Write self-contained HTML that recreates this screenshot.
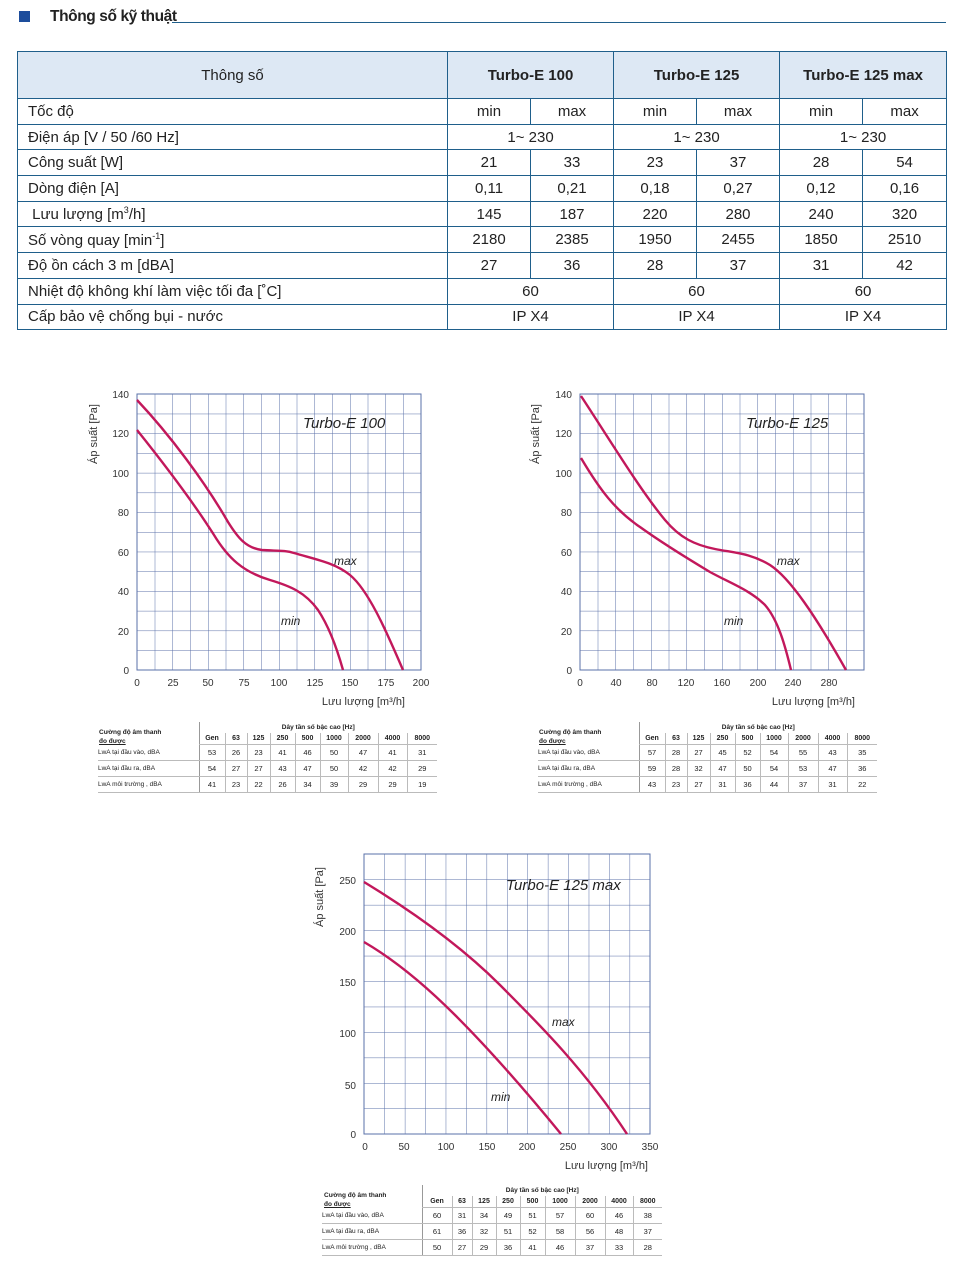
<!DOCTYPE html>
<html><head><meta charset="utf-8">
<style>
body{margin:0;background:#fff;width:954px;height:1271px;position:relative;overflow:hidden;font-family:"Liberation Sans",sans-serif;color:#222}
.abs{position:absolute}
table.main{position:absolute;left:17px;top:51px;width:929px;border-collapse:collapse;font-size:15px;table-layout:fixed}
table.main td{border:1px solid #1f5f8b;height:24.7px;padding:0;text-align:center}
table.main td.l{text-align:left;padding-left:10px}
table.main tr.h td{height:46px;background:#dde8f4;font-size:15px}
table.main tr.h td.b{font-weight:bold;font-size:15px}
.st{position:absolute;border-collapse:collapse;font-size:7.5px;table-layout:fixed}
.st td{text-align:center;padding:0;height:15px;border-bottom:1px solid #bbb;border-left:1px solid #bbb}
.st td.l{text-align:left;border-left:none;font-size:6.5px}
.st td.l2{border-left:1px solid #999}
.st tr.hd td{font-weight:bold;height:11px;font-size:7px}
.st tr.t td{border-bottom:none;height:11px;font-weight:bold;font-size:6.5px}
</style></head><body>
<div class="abs" style="left:19px;top:11px;width:11px;height:11px;background:#1d4d9c"></div>
<div class="abs" style="left:50px;top:8px;font-size:15.5px;font-weight:bold;letter-spacing:-0.4px">Thông số kỹ thuật</div>
<div class="abs" style="left:172px;top:22px;width:774px;height:1px;background:#1f5f8b"></div>

<table class="main">
<colgroup><col style="width:430px"><col style="width:83px"><col style="width:83px"><col style="width:83px"><col style="width:83px"><col style="width:83px"><col style="width:84px"></colgroup>
<tr class="h"><td>Thông số</td><td colspan="2" class="b">Turbo-E 100</td><td colspan="2" class="b">Turbo-E 125</td><td colspan="2" class="b">Turbo-E 125 max</td></tr>
<tr><td class="l">Tốc độ</td><td>min</td><td>max</td><td>min</td><td>max</td><td>min</td><td>max</td></tr>
<tr><td class="l">Điện áp [V / 50 /60 Hz]</td><td colspan="2">1~ 230</td><td colspan="2">1~ 230</td><td colspan="2">1~ 230</td></tr>
<tr><td class="l">Công suất [W]</td><td>21</td><td>33</td><td>23</td><td>37</td><td>28</td><td>54</td></tr>
<tr><td class="l">Dòng điện [A]</td><td>0,11</td><td>0,21</td><td>0,18</td><td>0,27</td><td>0,12</td><td>0,16</td></tr>
<tr><td class="l">&nbsp;Lưu lượng [m<sup style="font-size:9px">3</sup>/h]</td><td>145</td><td>187</td><td>220</td><td>280</td><td>240</td><td>320</td></tr>
<tr><td class="l">Số vòng quay [min<sup style="font-size:9px">-1</sup>]</td><td>2180</td><td>2385</td><td>1950</td><td>2455</td><td>1850</td><td>2510</td></tr>
<tr><td class="l">Độ ồn cách 3 m [dBA]</td><td>27</td><td>36</td><td>28</td><td>37</td><td>31</td><td>42</td></tr>
<tr><td class="l">Nhiệt độ không khí làm việc tối đa [˚C]</td><td colspan="2">60</td><td colspan="2">60</td><td colspan="2">60</td></tr>
<tr><td class="l">Cấp bảo vệ chống bụi - nước</td><td colspan="2">IP X4</td><td colspan="2">IP X4</td><td colspan="2">IP X4</td></tr>
</table>

<svg class="abs" style="left:0;top:0" width="954" height="1271" font-family="Liberation Sans, sans-serif">
<defs>
<pattern id="g1" x="137" y="394" width="17.75" height="19.714" patternUnits="userSpaceOnUse"><path d="M0 0H17.75M0 0V19.714" stroke="#5a70a8" stroke-width="1" fill="none"/></pattern>
<pattern id="g2" x="580" y="394" width="17.75" height="19.714" patternUnits="userSpaceOnUse"><path d="M0 0H17.75M0 0V19.714" stroke="#5a70a8" stroke-width="1" fill="none"/></pattern>
<pattern id="g3" x="364" y="854" width="20.43" height="25.45" patternUnits="userSpaceOnUse"><path d="M0 0H20.43M0 0V25.45" stroke="#5a70a8" stroke-width="1" fill="none"/></pattern>
</defs>
<!-- chart 1 -->
<rect x="137" y="394" width="284" height="276" fill="url(#g1)" stroke="#5a70a8"/>
<g font-size="10" fill="#333" text-anchor="end">
<text x="129" y="398">140</text><text x="129" y="437">120</text><text x="129" y="477">100</text><text x="129" y="516">80</text><text x="129" y="556">60</text><text x="129" y="595">40</text><text x="129" y="635">20</text><text x="129" y="674">0</text>
</g>
<g font-size="10" fill="#333" text-anchor="middle">
<text x="137" y="686">0</text><text x="173" y="686">25</text><text x="208" y="686">50</text><text x="244" y="686">75</text><text x="279" y="686">100</text><text x="315" y="686">125</text><text x="350" y="686">150</text><text x="386" y="686">175</text><text x="421" y="686">200</text>
</g>
<text x="405" y="705" font-size="11" fill="#333" text-anchor="end">Lưu lượng [m³/h]</text>
<text transform="translate(97,434) rotate(-90)" font-size="11" fill="#333" text-anchor="middle">Áp suất [Pa]</text>
<text x="303" y="428" font-size="15" font-style="italic" fill="#222">Turbo-E 100</text>
<text x="334" y="565" font-size="12" font-style="italic" fill="#222">max</text>
<text x="281" y="625" font-size="12" font-style="italic" fill="#222">min</text>
<g fill="none" stroke="#c2185b" stroke-width="2.4">
<path d="M137 400 C170 435 205 482 228 522 C238 538 246 548 262 550 C275 551 285 550 294 553 C318 560 335 563 350 575 C368 590 385 628 403 670"/>
<path d="M137 430 C165 465 195 505 214 535 C228 558 243 572 270 580 C290 586 305 592 318 610 C328 625 336 645 343 670"/>
</g>
<!-- chart 2 -->
<rect x="580" y="394" width="284" height="276" fill="url(#g2)" stroke="#5a70a8"/>
<g font-size="10" fill="#333" text-anchor="end">
<text x="572" y="398">140</text><text x="572" y="437">120</text><text x="572" y="477">100</text><text x="572" y="516">80</text><text x="572" y="556">60</text><text x="572" y="595">40</text><text x="572" y="635">20</text><text x="572" y="674">0</text>
</g>
<g font-size="10" fill="#333" text-anchor="middle">
<text x="580" y="686">0</text><text x="616" y="686">40</text><text x="652" y="686">80</text><text x="686" y="686">120</text><text x="722" y="686">160</text><text x="758" y="686">200</text><text x="793" y="686">240</text><text x="829" y="686">280</text>
</g>
<text x="855" y="705" font-size="11" fill="#333" text-anchor="end">Lưu lượng [m³/h]</text>
<text transform="translate(539,434) rotate(-90)" font-size="11" fill="#333" text-anchor="middle">Áp suất [Pa]</text>
<text x="746" y="428" font-size="15" font-style="italic" fill="#222">Turbo-E 125</text>
<text x="777" y="565" font-size="12" font-style="italic" fill="#222">max</text>
<text x="724" y="625" font-size="12" font-style="italic" fill="#222">min</text>
<g fill="none" stroke="#c2185b" stroke-width="2.4">
<path d="M581 396 C610 440 640 490 665 520 C680 538 695 545 715 549 C735 553 750 553 770 565 C790 578 815 615 846 670"/>
<path d="M581 458 C600 490 615 510 640 527 C665 545 690 560 710 572 C730 583 750 590 765 605 C778 620 785 645 791 670"/>
</g>
<!-- chart 3 -->
<rect x="364" y="854" width="286" height="280" fill="url(#g3)" stroke="#5a70a8"/>
<g font-size="10" fill="#333" text-anchor="end">
<text x="356" y="884">250</text><text x="356" y="935">200</text><text x="356" y="986">150</text><text x="356" y="1037">100</text><text x="356" y="1089">50</text><text x="356" y="1138">0</text>
</g>
<g font-size="10" fill="#333" text-anchor="middle">
<text x="365" y="1150">0</text><text x="404" y="1150">50</text><text x="446" y="1150">100</text><text x="487" y="1150">150</text><text x="527" y="1150">200</text><text x="568" y="1150">250</text><text x="609" y="1150">300</text><text x="650" y="1150">350</text>
</g>
<text x="648" y="1169" font-size="11" fill="#333" text-anchor="end">Lưu lượng [m³/h]</text>
<text transform="translate(323,897) rotate(-90)" font-size="11" fill="#333" text-anchor="middle">Áp suất [Pa]</text>
<text x="506" y="890" font-size="15" font-style="italic" fill="#222">Turbo-E 125 max</text>
<text x="552" y="1026" font-size="12" font-style="italic" fill="#222">max</text>
<text x="491" y="1101" font-size="12" font-style="italic" fill="#222">min</text>
<g fill="none" stroke="#c2185b" stroke-width="2.4">
<path d="M364 882 C410 910 460 945 500 985 C540 1025 585 1070 627 1134"/>
<path d="M364 942 C395 960 425 985 455 1015 C490 1050 525 1090 561 1134"/>
</g>
</svg>

<!-- small tables -->
<div class="abs" style="left:99px;top:728px;font-size:6.5px;font-weight:bold;line-height:9px">Cường độ âm thanh<br><u>đo được</u></div>
<table class="st" style="left:98px;top:722px;width:339px">
<colgroup><col style="width:101px"><col style="width:26px"><col style="width:22px"><col style="width:23px"><col style="width:25px"><col style="width:25px"><col style="width:28px"><col style="width:30px"><col style="width:29px"><col style="width:30px"></colgroup>
<tr class="t"><td class="l" style="border-bottom:none"></td><td colspan="9" class="l2" style="border-left:1px solid #999">Dây tần số bậc cao [Hz]</td></tr>
<tr class="hd"><td class="l" style="border-bottom:none"></td><td class="l2">Gen</td><td>63</td><td>125</td><td>250</td><td>500</td><td>1000</td><td>2000</td><td>4000</td><td>8000</td></tr>
<tr><td class="l">LwA tại đầu vào, dBA</td><td class="l2">53</td><td>26</td><td>23</td><td>41</td><td>46</td><td>50</td><td>47</td><td>41</td><td>31</td></tr>
<tr><td class="l">LwA tại đầu ra, dBA</td><td class="l2">54</td><td>27</td><td>27</td><td>43</td><td>47</td><td>50</td><td>42</td><td>42</td><td>29</td></tr>
<tr><td class="l">LwA môi trường , dBA</td><td class="l2">41</td><td>23</td><td>22</td><td>26</td><td>34</td><td>39</td><td>29</td><td>29</td><td>19</td></tr>
</table>

<div class="abs" style="left:539px;top:728px;font-size:6.5px;font-weight:bold;line-height:9px">Cường độ âm thanh<br><u>đo được</u></div>
<table class="st" style="left:538px;top:722px;width:339px">
<colgroup><col style="width:101px"><col style="width:26px"><col style="width:22px"><col style="width:23px"><col style="width:25px"><col style="width:25px"><col style="width:28px"><col style="width:30px"><col style="width:29px"><col style="width:30px"></colgroup>
<tr class="t"><td class="l"></td><td colspan="9" style="border-left:1px solid #999">Dây tần số bậc cao [Hz]</td></tr>
<tr class="hd"><td class="l" style="border-bottom:none"></td><td class="l2">Gen</td><td>63</td><td>125</td><td>250</td><td>500</td><td>1000</td><td>2000</td><td>4000</td><td>8000</td></tr>
<tr><td class="l">LwA tại đầu vào, dBA</td><td class="l2">57</td><td>28</td><td>27</td><td>45</td><td>52</td><td>54</td><td>55</td><td>43</td><td>35</td></tr>
<tr><td class="l">LwA tại đầu ra, dBA</td><td class="l2">59</td><td>28</td><td>32</td><td>47</td><td>50</td><td>54</td><td>53</td><td>47</td><td>36</td></tr>
<tr><td class="l">LwA môi trường , dBA</td><td class="l2">43</td><td>23</td><td>27</td><td>31</td><td>36</td><td>44</td><td>37</td><td>31</td><td>22</td></tr>
</table>

<div class="abs" style="left:324px;top:1191px;font-size:6.5px;font-weight:bold;line-height:9px">Cường độ âm thanh<br><u>đo được</u></div>
<table class="st" style="left:322px;top:1185px;width:340px">
<colgroup><col style="width:100px"><col style="width:30px"><col style="width:20px"><col style="width:24px"><col style="width:24px"><col style="width:25px"><col style="width:30px"><col style="width:30px"><col style="width:28px"><col style="width:29px"></colgroup>
<tr class="t"><td class="l"></td><td colspan="9" style="border-left:1px solid #999">Dây tần số bậc cao [Hz]</td></tr>
<tr class="hd"><td class="l" style="border-bottom:none"></td><td class="l2">Gen</td><td>63</td><td>125</td><td>250</td><td>500</td><td>1000</td><td>2000</td><td>4000</td><td>8000</td></tr>
<tr><td class="l">LwA tại đầu vào, dBA</td><td class="l2">60</td><td>31</td><td>34</td><td>49</td><td>51</td><td>57</td><td>60</td><td>46</td><td>38</td></tr>
<tr><td class="l">LwA tại đầu ra, dBA</td><td class="l2">61</td><td>36</td><td>32</td><td>51</td><td>52</td><td>58</td><td>56</td><td>48</td><td>37</td></tr>
<tr><td class="l">LwA môi trường , dBA</td><td class="l2">50</td><td>27</td><td>29</td><td>36</td><td>41</td><td>46</td><td>37</td><td>33</td><td>28</td></tr>
</table>
</body></html>
